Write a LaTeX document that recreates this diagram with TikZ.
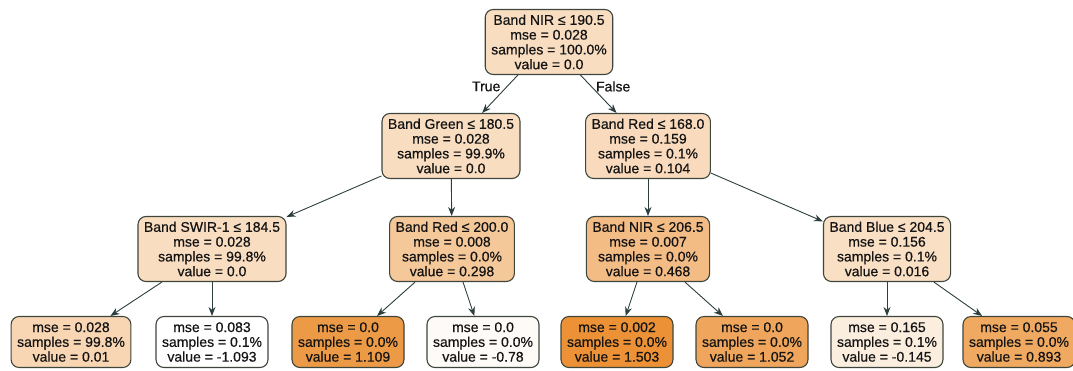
\documentclass[tikz,border=0pt]{standalone}
\usepackage{fontspec}
\setmainfont[FakeBold=0.5]{Liberation Sans}
\usetikzlibrary{arrows.meta}
\definecolor{leafo}{RGB}{235,140,45}
\definecolor{rim}{RGB}{62,70,60}
\definecolor{wire}{RGB}{45,62,62}
\definecolor{ink}{RGB}{20,20,20}

\begin{document}
\begin{tikzpicture}
    [x=1pt, y=-1pt,
    font=\fontsize{14}{14.8}\selectfont, text=ink,
    box/.style={draw=rim, line width=1.1pt, rounded corners=8pt, align=center, inner xsep=6pt, inner ysep=3pt},
    split/.style={box, minimum height=65pt},
    leaf/.style={box, minimum height=51pt},
    edge/.style={draw=wire, line width=0.9pt, -{Stealth[length=9pt, width=7pt]}}]
        \useasboundingbox (0,0) rectangle (1073,370);
        % splits
        \node[split, fill=leafo!30] (N) at (549,42) {Band NIR ≤ 190.5\\mse = 0.028\\samples = 100.0\%\\value = 0.0};
        \node[split, fill=leafo!30] (N1) at (451,146) {Band Green ≤ 180.5\\mse = 0.028\\samples = 99.9\%\\value = 0.0};
        \node[split, fill=leafo!32] (N2) at (648,146) {Band Red ≤ 168.0\\mse = 0.159\\samples = 0.1\%\\value = 0.104};
        \node[split, fill=leafo!30] (N11) at (212,249) {Band SWIR-1 ≤ 184.5\\mse = 0.028\\samples = 99.8\%\\value = 0.0};
        \node[split, fill=leafo!48] (N12) at (452,249) {Band Red ≤ 200.0\\mse = 0.008\\samples = 0.0\%\\value = 0.298};
        \node[split, fill=leafo!58] (N21) at (648,249) {Band NIR ≤ 206.5\\mse = 0.007\\samples = 0.0\%\\value = 0.468};
        \node[split, fill=leafo!28] (N22) at (887,249) {Band Blue ≤ 204.5\\mse = 0.156\\samples = 0.1\%\\value = 0.016};
        % leaves
        \node[leaf, fill=leafo!36] (L1) at (71,342) {mse = 0.028\\samples = 99.8\%\\value = 0.01};
        \node[leaf, fill=white] (L2) at (212,342) {mse = 0.083\\samples = 0.1\%\\value = -1.093};
        \node[leaf, fill=leafo!88] (L3) at (348,342) {mse = 0.0\\samples = 0.0\%\\value = 1.109};
        \node[leaf, fill=leafo!4] (L4) at (483,342) {mse = 0.0\\samples = 0.0\%\\value = -0.78};
        \node[leaf, fill=leafo!96] (L5) at (617,342) {mse = 0.002\\samples = 0.0\%\\value = 1.503};
        \node[leaf, fill=leafo!78] (L6) at (752,342) {mse = 0.0\\samples = 0.0\%\\value = 1.052};
        \node[leaf, fill=leafo!15] (L7) at (887,342) {mse = 0.165\\samples = 0.1\%\\value = -0.145};
        \node[leaf, fill=leafo!75] (L8) at (1019,342) {mse = 0.055\\samples = 0.0\%\\value = 0.893};

        \draw[edge] (N) to node[pos=0.3, left=3pt] {True} (N1);
        \draw[edge] (N) to node[pos=0.3, right=1pt] {False} (N2);
        \draw[edge] (N1) to (N11);
        \draw[edge] (N1) to (N12);
        \draw[edge] (N2) to (N21);
        \draw[edge] (N2) to (N22);
        \draw[edge] (N11) to (L1);
        \draw[edge] (N11) to (L2);
        \draw[edge] (N12) to (L3);
        \draw[edge] (N12) to (L4);
        \draw[edge] (N21) to (L5);
        \draw[edge] (N21) to (L6);
        \draw[edge] (N22) to (L7);
        \draw[edge] (N22) to (L8);
   \end{tikzpicture}
\end{document}
